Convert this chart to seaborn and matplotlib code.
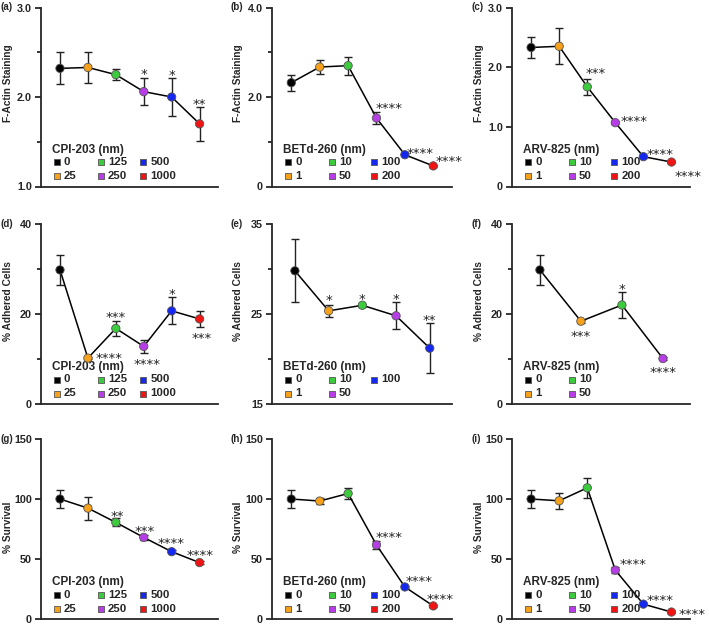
import numpy as np
import pandas as pd
import seaborn as sns
import matplotlib.pyplot as plt
from matplotlib.transforms import offset_copy

# doses (nm)
cpi_doses = ["0", "25", "125", "250", "500", "1000"]
betd_doses = ["0", "1", "10", "50", "100", "200"]
arv_doses = ["0", "1", "10", "50", "100", "200"]
dose_colors = ["#000000", "#F7A11A", "#3CCB3C", "#B73DE6", "#1428F0", "#F01414"]

# F-actin staining
factin_cpi = [2.32, 2.33, 2.25, 2.06, 2.00, 1.70]
factin_cpi_err = [0.18, 0.17, 0.065, 0.15, 0.21, 0.19]
factin_cpi_sig = ["", "", "", "*", "*", "**"]
factin_betd = [2.32, 2.67, 2.70, 1.53, 0.71, 0.46]
factin_betd_err = [0.18, 0.15, 0.20, 0.14, 0.03, 0.02]
factin_betd_sig = ["", "", "", "****", "****", "****"]
factin_arv = [2.33, 2.35, 1.67, 1.07, 0.50, 0.41]
factin_arv_err = [0.18, 0.30, 0.135, 0.03, 0.02, 0.02]
factin_arv_sig = ["", "", "***", "****", "****", "****"]

# % adhered cells
adh_cpi = [29.8, 10.2, 16.8, 12.8, 20.7, 18.9]
adh_cpi_err = [3.4, 0.3, 1.7, 1.5, 3.0, 1.7]
adh_cpi_sig = ["", "****", "***", "****", "*", "***"]
adh_betd = [29.8, 25.35, 25.97, 24.8, 21.2]
adh_betd_err = [3.5, 0.65, 0.15, 1.5, 2.75]
adh_betd_sig = ["", "*", "*", "*", "**"]
adh_arv = [29.8, 18.4, 22.0, 10.1]
adh_arv_err = [3.4, 0.3, 2.8, 0.3]
adh_arv_sig = ["", "***", "*", "****"]

# % survival
surv_cpi = [100, 92.4, 80.5, 68.0, 56.1, 47.0]
surv_cpi_err = [7.3, 9.6, 3.3, 2.0, 1.2, 1.0]
surv_cpi_sig = ["", "", "**", "***", "****", "****"]
surv_betd = [100, 98.3, 104.6, 61.7, 26.7, 10.9]
surv_betd_err = [7.3, 2.5, 4.9, 3.0, 1.2, 1.0]
surv_betd_sig = ["", "", "", "****", "****", "****"]
surv_arv = [100, 98.5, 109.3, 40.7, 12.4, 5.8]
surv_arv_err = [7.3, 6.7, 8.2, 2.5, 1.0, 0.8]
surv_arv_sig = ["", "", "", "****", "****", "****"]

# star offsets from each point (pixels, right / down)
offs_a = [None, None, None, (0, -19), (0, -24), (0, -21)]
offs_b = [None, None, None, (13, -12), (15, -3), (16, -6)]
offs_c = [None, None, (8, -15), (19, -3), (17, -4), (17, 12)]
offs_d = [None, (21, -2), (0, -13), (3, 16), (0, -18), (2, 18)]
offs_e = [None, (0, -12), (0, -8), (0, -18), (0, -30)]
offs_f = [None, (0, 13), (0, -17), (0, 12)]
offs_g = [None, None, (1, -8), (1, -8), (-1, -10), (0, -9)]
offs_h = [None, None, None, (13, -9), (14, -7), (7, -8)]
offs_i = [None, None, None, (18, -8), (17, -6), (21, 0)]

sns.set_style("ticks")
plt.rcParams['font.family'] = ['Liberation Sans', 'DejaVu Sans']
plt.rcParams['font.weight'] = 'bold'

fig = plt.figure(figsize=(7.09, 6.25), dpi=100)

cols = [(41, 177), (272, 180), (512, 178)]
rows = [(7.5, 186.5), (224, 404), (439, 619)]


def make_ax(r, c):
    x0, w = cols[c]
    top, bot = rows[r]
    return fig.add_axes([x0 / 709, 1 - bot / 625, w / 709, (bot - top) / 625])


def px(ax, dx, dy):
    # transform: pixel offset from the lower-left corner of the axes
    return offset_copy(ax.transAxes, fig=fig, x=dx, y=dy, units="dots")


def legend_box(ax, drug, doses, n):
    ax.text(0, 0, drug + " (nm)", transform=px(ax, 11, 37), ha="left",
            va="center", fontsize=8.5, fontweight="bold")
    col_x = [15.5, 59.5, 102]
    row_y = [24.5, 10.5]
    for i in range(n):
        cx = col_x[i // 2]
        cy = row_y[i % 2]
        ax.scatter([0], [0], marker="s", s=24, color=dose_colors[i],
                   edgecolor="#555555", linewidth=0.6, clip_on=False,
                   transform=px(ax, cx, cy), zorder=5)
        ax.text(0, 0, doses[i], transform=px(ax, cx + 7.5, cy), ha="left",
                va="center", fontsize=8.2, fontweight="bold")


def panel(ax, doses, vals, errs, sigs, offs, drug, ylim, major, labels, minor,
          ylabel, letter, ylab_y):
    n = len(vals)
    df = pd.DataFrame({"pos": np.arange(n), "dose": doses[:n], "val": vals})
    ax.errorbar(df["pos"], df["val"], yerr=errs, fmt="none", ecolor="#222222",
                elinewidth=1.0, capsize=3.2, capthick=1.0, zorder=2)
    sns.lineplot(data=df, x="pos", y="val", color="black", lw=1.1,
                 errorbar=None, ax=ax, zorder=3)
    sns.scatterplot(data=df, x="pos", y="val", hue="dose",
                    palette=dose_colors[:n], s=36, edgecolor="#555555",
                    linewidth=0.6, legend=False, ax=ax, zorder=4)
    for i, s in enumerate(sigs):
        if s and offs[i] is not None:
            dx, dy = offs[i]
            ax.annotate(s, (i, vals[i]), xytext=(dx, -dy - 2),
                        textcoords="offset pixels", ha="center", va="center",
                        fontsize=9.5, family="DejaVu Sans", fontweight="normal",
                        color="#222222")
    ax.set_xlim(-0.68, n - 1 + 0.66)
    ax.set_ylim(*ylim)
    ax.set_yticks(major)
    ax.set_yticklabels(labels)
    ax.set_yticks(minor, minor=True)
    ax.tick_params(axis="y", which="major", length=4.5, width=1.3,
                   labelsize=7.8, pad=2)
    ax.tick_params(axis="y", which="minor", length=3, width=1.3)
    ax.tick_params(axis="x", bottom=False, labelbottom=False)
    for sp in ["left", "bottom"]:
        ax.spines[sp].set_linewidth(1.3)
    sns.despine(ax=ax)
    ax.set_xlabel("")
    ax.set_ylabel(ylabel, fontsize=7.3, fontweight="bold")
    ax.yaxis.set_label_coords(-0.16, ylab_y)
    ax.text(-0.228, 1.0, letter, transform=ax.transAxes, ha="left",
            va="center", fontsize=7)
    legend_box(ax, drug, doses, n)


f_major = [1.0, 2.0, 3.0]
panel(make_ax(0, 0), cpi_doses, factin_cpi, factin_cpi_err, factin_cpi_sig,
      offs_a, "CPI-203", (1, 3), f_major, ["1.0", "2.0", "3.0"], [1.5, 2.5],
      "F-Actin Staining", "(a)", 0.58)
panel(make_ax(0, 1), betd_doses, factin_betd, factin_betd_err, factin_betd_sig,
      offs_b, "BETd-260", (0, 4), [0, 2, 4], ["0", "2.0", "4.0"], [1, 3],
      "F-Actin Staining", "(b)", 0.58)
panel(make_ax(0, 2), arv_doses, factin_arv, factin_arv_err, factin_arv_sig,
      offs_c, "ARV-825", (0, 3), [0, 1, 2, 3], ["0", "1.0", "2.0", "3.0"], [],
      "F-Actin Staining", "(c)", 0.58)

panel(make_ax(1, 0), cpi_doses, adh_cpi, adh_cpi_err, adh_cpi_sig,
      offs_d, "CPI-203", (0, 40), [0, 20, 40], ["0", "20", "40"], [10, 30],
      "% Adhered Cells", "(d)", 0.57)
panel(make_ax(1, 1), betd_doses, adh_betd, adh_betd_err, adh_betd_sig,
      offs_e, "BETd-260", (15, 35), [15, 25, 35], ["15", "25", "35"], [20, 30],
      "% Adhered Cells", "(e)", 0.57)
panel(make_ax(1, 2), arv_doses, adh_arv, adh_arv_err, adh_arv_sig,
      offs_f, "ARV-825", (0, 40), [0, 20, 40], ["0", "20", "40"], [10, 30],
      "% Adhered Cells", "(f)", 0.57)

s_major = [0, 50, 100, 150]
s_labels = ["0", "50", "100", "150"]
panel(make_ax(2, 0), cpi_doses, surv_cpi, surv_cpi_err, surv_cpi_sig,
      offs_g, "CPI-203", (0, 150), s_major, s_labels, [],
      "% Survival", "(g)", 0.51)
panel(make_ax(2, 1), betd_doses, surv_betd, surv_betd_err, surv_betd_sig,
      offs_h, "BETd-260", (0, 150), s_major, s_labels, [],
      "% Survival", "(h)", 0.51)
panel(make_ax(2, 2), arv_doses, surv_arv, surv_arv_err, surv_arv_sig,
      offs_i, "ARV-825", (0, 150), s_major, s_labels, [],
      "% Survival", "(i)", 0.51)

fig.savefig("out.png", dpi=100)
